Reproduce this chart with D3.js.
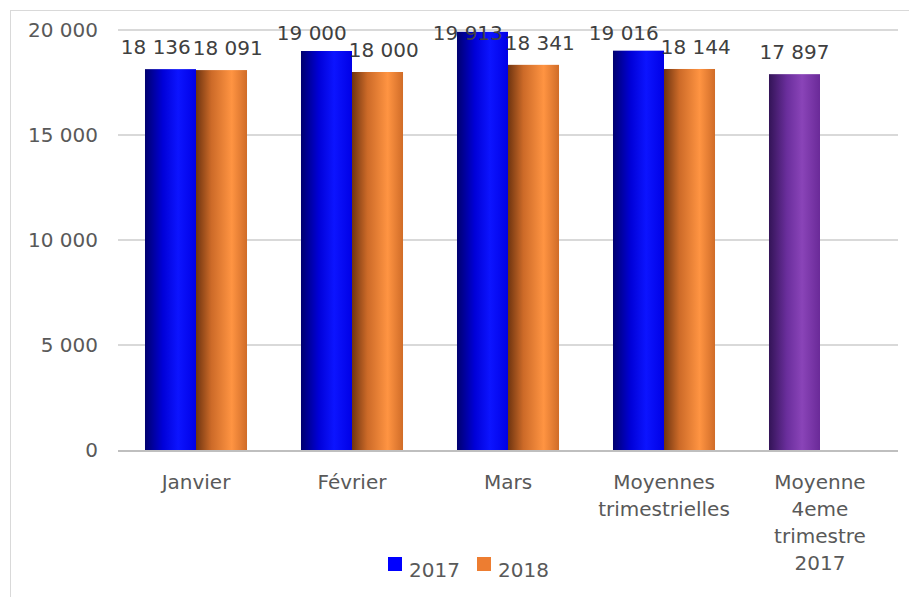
<!DOCTYPE html>
<html>
<head>
<meta charset="utf-8">
<script src="https://cdn.jsdelivr.net/npm/d3@7"></script>
<style>
  body { margin: 0; background: #fff; }
  svg text { font-family: "DejaVu Sans", "Liberation Sans", sans-serif; }
</style>
</head>
<body>
<div id="chart"></div>
<script>
// Categories (multi-line labels split on "|")
const categories = ["Janvier", "Février", "Mars", "Moyennes|trimestrielles", "Moyenne|4eme|trimestre|2017"];
const series = ["2017", "2018"];
const values2017 = [18136, 19000, 19913, 19016, 17897];
const values2018 = [18091, 18000, 18341, 18144, null];
const yTicks = [0, 5000, 10000, 15000, 20000];

const width = 909, height = 597;
const margin = {top: 30, right: 11, bottom: 147, left: 118};

const svg = d3.select("#chart").append("svg")
  .attr("width", width)
  .attr("height", height);

// gradients for the shaded cylinder-like bars
const defs = svg.append("defs");
function gradient(id, stops) {
  const g = defs.append("linearGradient").attr("id", id)
    .attr("x1", "0%").attr("x2", "100%").attr("y1", "0%").attr("y2", "0%");
  stops.forEach(s => g.append("stop").attr("offset", s[0]).attr("stop-color", s[1]));
}
gradient("g2017", [["0%", "#00006e"], ["35%", "#0000d8"], ["65%", "#0c14ff"], ["100%", "#0000e6"]]);
gradient("g2018", [["0%", "#6e3410"], ["30%", "#cc6a28"], ["70%", "#ff9442"], ["100%", "#d06c28"]]);
gradient("gQ4", [["0%", "#331457"], ["35%", "#6a2e9c"], ["65%", "#8a44b8"], ["100%", "#6a2a98"]]);

// outer chart border
svg.append("rect")
  .attr("x", 10.5).attr("y", 10.5)
  .attr("width", 1000).attr("height", 1000)
  .attr("fill", "none").attr("stroke", "#d9d9d9");

const x = d3.scaleBand()
  .domain(categories)
  .range([margin.left, width - margin.right])
  .paddingInner(0.346)
  .paddingOuter(0.173);

const x1 = d3.scaleBand().domain(series).range([0, x.bandwidth()]);

const y = d3.scaleLinear()
  .domain([0, 20000])
  .range([height - margin.bottom, margin.top]);

const fmt = v => d3.format(",")(v).replace(/,/g, " ");

// gridlines
svg.append("g").selectAll("line")
  .data(yTicks.filter(d => d > 0))
  .join("line")
  .attr("x1", margin.left).attr("x2", width - margin.right)
  .attr("y1", d => y(d)).attr("y2", d => y(d))
  .attr("stroke", "#d9d9d9").attr("stroke-width", 2);

// y axis labels
svg.append("g").selectAll("text")
  .data(yTicks)
  .join("text")
  .attr("x", 98)
  .attr("y", d => y(d))
  .attr("dy", "0.35em")
  .attr("text-anchor", "end")
  .attr("fill", "#595959")
  .attr("font-size", 20)
  .text(fmt);

// bars
const rows = categories.map((c, i) => ({
  cat: c,
  bars: [
    {key: "2017", value: values2017[i], fill: i === 4 ? "url(#gQ4)" : "url(#g2017)"},
    {key: "2018", value: values2018[i], fill: "url(#g2018)"}
  ].filter(b => b.value != null)
}));

const groups = svg.append("g").selectAll("g")
  .data(rows)
  .join("g")
  .attr("transform", d => `translate(${x(d.cat)},0)`);

groups.selectAll("rect")
  .data(d => d.bars)
  .join("rect")
  .attr("x", d => x1(d.key))
  .attr("y", d => y(d.value))
  .attr("width", x1.bandwidth())
  .attr("height", d => y(0) - y(d.value))
  .attr("fill", d => d.fill);

// value labels, kept inside the plot top like the original
groups.selectAll("text")
  .data(d => d.bars)
  .join("text")
  .attr("x", d => x1(d.key) + x1.bandwidth() / 2)
  .attr("y", d => Math.max(y(d.value) - 15, 40))
  .attr("text-anchor", "middle")
  .attr("fill", "#404040")
  .attr("font-size", 20)
  .text(d => fmt(d.value));

// nudge the left label of a pair away when the two collide
groups.each(function() {
  const t = d3.select(this).selectAll("text").nodes();
  if (t.length < 2) return;
  const a = t[0].getBBox(), b = t[1].getBBox();
  const vOverlap = Math.abs(a.y - b.y) < a.height;
  const overlap = a.x + a.width + 2 - b.x;
  if (vOverlap && overlap > 0) {
    d3.select(t[0]).attr("x", +d3.select(t[0]).attr("x") - overlap * 0.7);
    d3.select(t[1]).attr("x", +d3.select(t[1]).attr("x") + overlap * 0.3);
  }
});

// baseline axis
svg.append("line")
  .attr("x1", margin.left).attr("x2", width - margin.right)
  .attr("y1", y(0) + 1).attr("y2", y(0) + 1)
  .attr("stroke", "#bfbfbf").attr("stroke-width", 2);

// category labels
const catLabels = svg.append("g").selectAll("text")
  .data(categories)
  .join("text")
  .attr("x", d => x(d) + x.bandwidth() / 2)
  .attr("y", 489)
  .attr("text-anchor", "middle")
  .attr("fill", "#595959")
  .attr("font-size", 20);

catLabels.selectAll("tspan")
  .data(d => d.split("|"))
  .join("tspan")
  .attr("x", function() { return d3.select(this.parentNode).attr("x"); })
  .attr("dy", (d, i) => i === 0 ? 0 : 27)
  .text(d => d);

// legend
const legend = svg.append("g").attr("transform", "translate(388,557)");
const legendItems = legend.selectAll("g")
  .data([{key: "2017", color: "#0000ff"}, {key: "2018", color: "#ed7d31"}])
  .join("g")
  .attr("transform", (d, i) => `translate(${i * 89},0)`);
legendItems.append("rect")
  .attr("width", 14).attr("height", 14)
  .attr("fill", d => d.color);
legendItems.append("text")
  .attr("x", 21).attr("y", 20)
  .attr("fill", "#595959")
  .attr("font-size", 20)
  .text(d => d.key);
</script>
</body>
</html>
